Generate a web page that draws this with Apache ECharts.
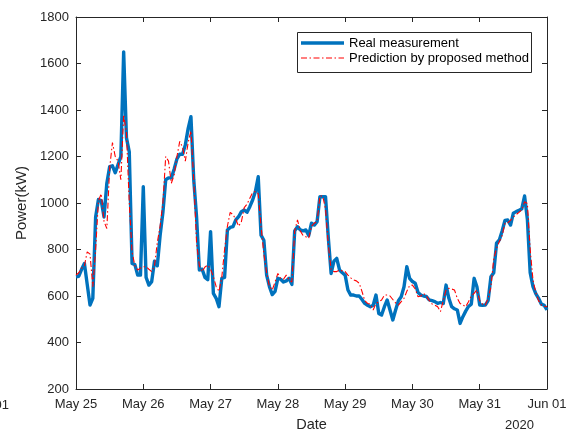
<!DOCTYPE html>
<html>
<head>
<meta charset="utf-8">
<script src="https://cdn.jsdelivr.net/npm/echarts@6/dist/echarts.min.js"></script>
<style>
  html, body { margin: 0; padding: 0; background: #fff; }
  #chart { width: 567px; height: 431px; }
</style>
</head>
<body>
<div id="chart"></div>
<script>
// Hourly power, May 25 00:00 to Jun 01 00:00 (169 samples)
const dayLabels = ['May 25', 'May 26', 'May 27', 'May 28', 'May 29', 'May 30', 'May 31', 'Jun 01'];
const yearLabel = '2020';
const seriesNames = ['Real measurement', 'Prediction by proposed method'];

const realMeasurement = [
  683, 685, 715, 740, 650, 561, 590, 940, 1015, 1010, 940, 1085, 1156, 1160, 1130, 1165, 1200, 1650, 1280, 1220, 740, 735, 690, 690,
  1070, 680, 647, 662, 750, 730, 860, 960, 1100, 1108, 1108, 1145, 1190, 1210, 1210, 1250, 1320, 1371, 1100, 941, 712, 715, 680, 670,
  877, 611, 590, 554, 676, 680, 884, 895, 898, 927, 941, 963, 970, 960, 984, 1013, 1050, 1113, 862, 840, 690, 640, 606, 620,
  676, 672, 660, 665, 676, 650, 880, 898, 884, 880, 884, 860, 913, 905, 920, 1027, 1027, 1027, 850, 697, 750, 762, 712, 700,
  690, 626, 604, 604, 600, 600, 585, 568, 560, 554, 560, 604, 525, 518, 554, 583, 540, 497, 540, 580, 597, 640, 726, 676,
  662, 655, 615, 604, 600, 598, 583, 580, 576, 568, 572, 568, 647, 590, 554, 545, 540, 482, 511, 535, 555, 565, 676, 640,
  561, 560, 561, 580, 683, 700, 827, 841, 880, 925, 927, 905, 956, 963, 968, 975, 1030, 930, 700, 640, 610, 590, 565, 560,
  540
];

const predicted = [
  690, 700, 720, 730, 790, 780, 640, 800, 1010, 1040, 920, 890, 1150, 1260, 1200, 1180, 1100, 1380, 1300, 1000, 790, 730, 712, 720,
  726, 726, 715, 705, 730, 830, 900, 1000, 1200, 1180, 1085, 1120, 1200, 1265, 1240, 1180, 1260, 1310, 1100, 830, 730, 705, 725, 733,
  715, 683, 640, 620, 680, 800, 900, 960, 950, 930, 900, 920, 980, 995, 1020, 1045, 1050, 1040, 900, 780, 700, 640, 626, 660,
  697, 676, 672, 690, 670, 660, 880, 927, 880, 860, 855, 848, 900, 913, 920, 1030, 1030, 975, 820, 712, 705, 705, 712, 708,
  705, 690, 678, 669, 665, 655, 620, 580, 568, 565, 540, 568, 575, 583, 604, 604, 600, 585, 570, 561, 576, 590, 620, 645,
  647, 630, 597, 600, 611, 600, 580, 566, 561, 554, 533, 580, 626, 633, 630, 626, 590, 568, 561, 554, 575, 600, 611, 626,
  580, 565, 561, 590, 640, 760, 805, 834, 860, 913, 915, 925, 940, 950, 960, 970, 1005, 998, 800, 669, 615, 580, 561, 556,
  554
];

const FONT = '"Liberation Sans", Arial, Helvetica, sans-serif';
const INK = '#262626';
const BLUE = '#0072BD';
const RED = '#FF0000';
const RED_DASH = [6, 2.5, 1.5, 2.5];
const HOURS_PER_DAY = 24;
const lastHour = (dayLabels.length - 1) * HOURS_PER_DAY;

const toPairs = arr => arr.map((v, i) => [i, v]);

const chart = echarts.init(document.getElementById('chart'), null, { renderer: 'canvas' });

const baseX = {
  type: 'value', min: 0, max: lastHour, interval: HOURS_PER_DAY,
  axisLine: { show: true, onZero: false, lineStyle: { color: INK, width: 1 } },
  axisTick: { show: true, inside: true, length: 5, lineStyle: { color: INK } },
  splitLine: { show: false }
};
const baseY = {
  type: 'value', min: 200, max: 1800, interval: 200,
  axisLine: { show: true, onZero: false, lineStyle: { color: INK, width: 1 } },
  axisTick: { show: true, inside: true, length: 5, lineStyle: { color: INK } },
  splitLine: { show: false }
};

// Boxed legend in the upper right of the plot area
const LEG = { x: 297, y: 32, w: 234, h: 40, row1: 43, row2: 58, lineX0: 301, lineX1: 344, textX: 349 };
const legendGraphic = {
  type: 'group',
  z: 100,
  children: [
    { type: 'rect', shape: { x: LEG.x + 0.5, y: LEG.y + 0.5, width: LEG.w, height: LEG.h },
      style: { fill: '#fff', stroke: INK, lineWidth: 1 } },
    { type: 'line', shape: { x1: LEG.lineX0, y1: LEG.row1, x2: LEG.lineX1, y2: LEG.row1 },
      style: { stroke: BLUE, lineWidth: 3.4 } },
    { type: 'line', shape: { x1: LEG.lineX0, y1: LEG.row2, x2: LEG.lineX1, y2: LEG.row2 },
      style: { stroke: RED, lineWidth: 1.1, lineDash: RED_DASH } },
    { type: 'text', style: { x: LEG.textX, y: LEG.row1, text: seriesNames[0], textVerticalAlign: 'middle',
      font: '13px ' + FONT, fill: '#000' } },
    { type: 'text', style: { x: LEG.textX, y: LEG.row2, text: seriesNames[1], textVerticalAlign: 'middle',
      font: '13px ' + FONT, fill: '#000' } }
  ]
};

chart.setOption({
  animation: false,
  backgroundColor: '#fff',
  grid: { left: 76, right: 20, top: 17, bottom: 42, containLabel: false, outerBoundsMode: 'none' },
  xAxis: [
    Object.assign({}, baseX, {
      position: 'bottom',
      name: 'Date', nameLocation: 'middle', nameGap: 28,
      nameTextStyle: { fontFamily: FONT, fontSize: 14.5, color: INK },
      axisLabel: {
        show: true, margin: 9, fontFamily: FONT, fontSize: 13, color: INK,
        formatter: v => dayLabels[Math.round(v / HOURS_PER_DAY)]
      }
    }),
    Object.assign({}, baseX, { position: 'top', axisLabel: { show: false } })
  ],
  yAxis: [
    Object.assign({}, baseY, {
      position: 'left',
      name: 'Power(kW)', nameLocation: 'middle', nameGap: 47, nameRotate: 90,
      nameTextStyle: { fontFamily: FONT, fontSize: 15, color: INK },
      axisLabel: { show: true, margin: 7, fontFamily: FONT, fontSize: 13, color: INK, formatter: v => String(v) }
    }),
    Object.assign({}, baseY, { position: 'right', axisLabel: { show: false } })
  ],
  series: [
    {
      name: seriesNames[0], type: 'line', xAxisIndex: 0, yAxisIndex: 0,
      data: toPairs(realMeasurement), showSymbol: false, symbol: 'none',
      lineStyle: { color: BLUE, width: 3.4, join: 'round' },
      itemStyle: { color: BLUE }
    },
    {
      name: seriesNames[1], type: 'line', xAxisIndex: 0, yAxisIndex: 0,
      data: toPairs(predicted), showSymbol: false, symbol: 'none',
      lineStyle: { color: RED, width: 1.1, type: RED_DASH },
      itemStyle: { color: RED }
    }
  ],
  graphic: [
    legendGraphic,
    { type: 'text', left: 505, top: 419, style: { text: yearLabel, font: '13px ' + FONT, fill: INK } },
    { type: 'text', style: { x: 9, y: 405, text: '01', textAlign: 'right', textVerticalAlign: 'middle', font: '13px ' + FONT, fill: INK } }
  ]
});
</script>
</body>
</html>
